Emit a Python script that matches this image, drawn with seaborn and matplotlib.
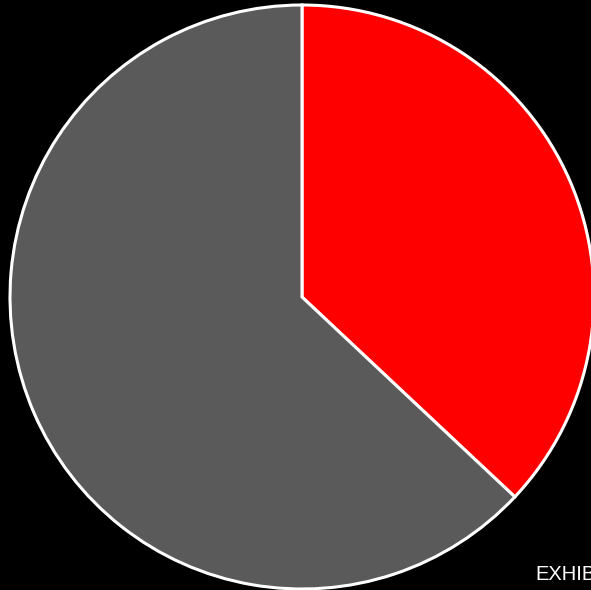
import matplotlib.pyplot as plt
import seaborn as sns

labels = ['Red', 'Gray']
shares = [37, 63]
colors = ['#ff0000', '#5a5a5a']

sns.set_style('dark')
plt.rcParams['font.family'] = ['Liberation Sans', 'DejaVu Sans']

fig = plt.figure(figsize=(5.91, 5.90), dpi=100, facecolor='black')
W, H = 591, 590
cx, cy, r = 302, 297, 292
ax = fig.add_axes([(cx - r) / W, 1 - (cy + r) / H, 2 * r / W, 2 * r / H])
ax.set_facecolor('black')

ax.pie(shares, colors=colors, startangle=90, counterclock=False,
       wedgeprops=dict(edgecolor='white', linewidth=2.2))
ax.set_xlim(-1, 1)
ax.set_ylim(-1, 1)
ax.set_aspect('equal')
ax.axis('off')

fig.text(535 / W, 1 - 580 / H, 'EXHIBIT', color='white', fontsize=14.5,
         ha='left', va='baseline')

fig.savefig('out.png', dpi=100, facecolor='black')
